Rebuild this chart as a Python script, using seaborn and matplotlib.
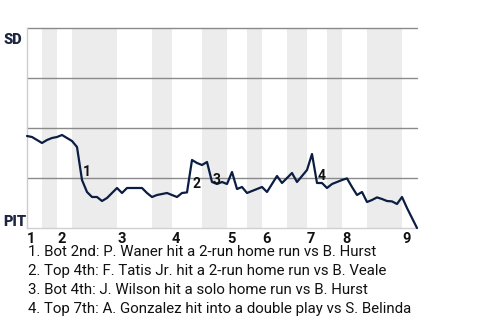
import matplotlib
matplotlib.use("Agg")
import matplotlib.pyplot as plt
import seaborn as sns
import pandas as pd
import numpy as np

# SD win probability (%) after each plate appearance (index 0 = game start)
sd_win_pct = [46, 45.5, 44, 42.5, 44, 45, 45.5, 46.5, 45, 43.5,
              40.5, 24, 18, 15.5, 15.5, 13.5, 15, 17.5, 20, 17.5,
              20, 20, 20, 20, 17.5, 15.5, 16.5, 17, 17.5, 16.5,
              15.5, 17.5, 17.8, 34, 32.5, 31.5, 33, 23, 22, 23,
              22, 28, 19.5, 20.5, 17.5, 18.5, 19.5, 20.5, 18, 22,
              26, 22.5, 25, 27.5, 23, 26, 29, 37, 22.5, 22.5,
              20, 22, 23, 24, 24.8, 20.5, 16.5, 18, 13, 14,
              15.3, 14.5, 13.5, 13.3, 12, 15.5, 10, 5, 0]

# plate appearances per half inning (top 1st, bot 1st, ..., top 9th)
half_inning_pas = [3, 3, 3, 9, 7, 4, 6, 5, 4, 3, 5, 4, 4, 3, 5, 7, 3]
inning_labels = ["1", "2", "3", "4", "5", "6", "7", "8", "9"]

event_pa = [11, 33, 37, 58]
event_marks = ["1", "2", "3", "4"]
event_text = [
    "1. Bot 2nd: P. Waner hit a 2-run home run vs B. Hurst",
    "2. Top 4th: F. Tatis Jr. hit a 2-run home run vs B. Veale",
    "3. Bot 4th: J. Wilson hit a solo home run vs B. Hurst",
    "4. Top 7th: A. Gonzalez hit into a double play vs S. Belinda",
]
team_top = "SD"
team_bottom = "PIT"

sns.set_theme(style="white")
plt.rcParams["font.family"] = ["Roboto", "DejaVu Sans"]

navy = "#0b1e42"
W, H = 480, 320
fig = plt.figure(figsize=(W / 100, H / 100), dpi=100)
ax = fig.add_axes([27 / W, (H - 228) / H, 390 / W, 200 / H])

df = pd.DataFrame({"pa": np.arange(len(sd_win_pct)), "wp": sd_win_pct})

# half-inning shading (bottom halves shaded)
bounds = np.concatenate([[0], np.cumsum(half_inning_pas)])
for k in range(len(half_inning_pas)):
    if k % 2 == 1:
        ax.axvspan(bounds[k], bounds[k + 1], color="#ececec", lw=0, zorder=0)

for yv in [25, 50, 75, 100]:
    ax.axhline(yv, color="#8a8a8a", lw=1, zorder=1, clip_on=False)

sns.lineplot(data=df, x="pa", y="wp", ax=ax, color=navy, lw=1.6,
             zorder=3, clip_on=False)

for pa, mark in zip(event_pa, event_marks):
    xm = pa - 0.5
    ym = (sd_win_pct[pa - 1] + sd_win_pct[pa]) / 2
    ax.annotate(mark, (xm, ym), xytext=(3, -1), textcoords="offset pixels",
                ha="left", va="top", fontsize=10, fontweight="bold",
                color="#111111", zorder=4)

ax.set_xlim(0, bounds[-1])
ax.set_ylim(0, 100)
ax.set_xlabel("")
ax.set_ylabel("")
inning_starts = bounds[0::2][:len(inning_labels)]
ax.set_xticks(inning_starts)
ax.set_xticklabels(inning_labels, fontweight="bold", fontsize=10.5,
                   ha="left", color="#111111")
ax.set_yticks([])
ax.tick_params(axis="x", length=0, pad=3)
for s in ["top", "right"]:
    ax.spines[s].set_visible(False)
ax.spines["left"].set_color("#cccccc")
ax.spines["left"].set_linewidth(1)
ax.spines["bottom"].set_color("#d0d0d0")
ax.spines["bottom"].set_linewidth(1)

fig.text(3 / W, 1 - 40 / H, team_top, fontsize=10.5, fontweight="heavy",
         color="#1c2541", ha="left", va="center")
fig.text(3 / W, 1 - 222 / H, team_bottom, fontsize=10.5, fontweight="heavy",
         color="#1c2541", ha="left", va="center")

baselines = [256, 275, 294, 312.5]
for t, b in zip(event_text, baselines):
    fig.text(28 / W, 1 - b / H, t, fontsize=10.8, color="#111111",
             ha="left", va="baseline")

fig.savefig("out.png", dpi=100)
